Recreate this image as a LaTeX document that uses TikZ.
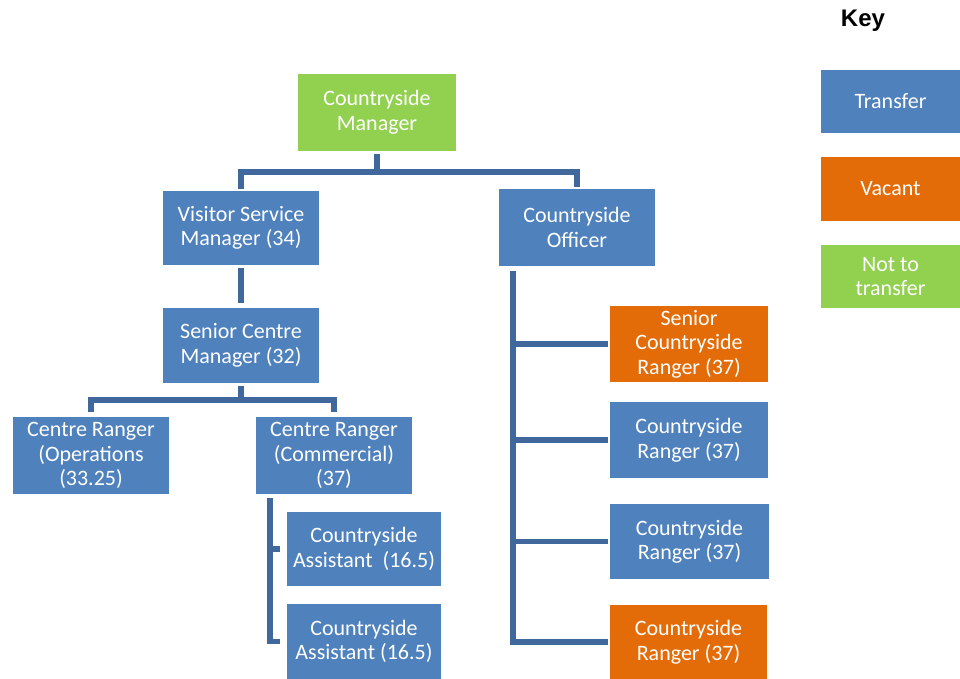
\documentclass[tikz,border=0pt]{standalone}
\usepackage{fontspec}
\setmainfont{Carlito}
\newfontfamily\keyfont{Liberation Sans}
\usetikzlibrary{calc}
\definecolor{cblue}{HTML}{4F81BD}
\definecolor{corange}{HTML}{E36C09}
\definecolor{cgreen}{HTML}{92D050}
\definecolor{cline}{RGB}{65,104,156}
\tikzset{
  box/.style={rectangle, inner sep=0pt, text=white, align=center,
    font=\fontsize{22}{24.5}\selectfont, minimum width=156pt, minimum height=76pt},
  tr/.style={box, fill=cblue},
  va/.style={box, fill=corange},
  nt/.style={box, fill=cgreen},
  conn/.style={draw=cline, line width=5.5pt},
}
\begin{document}
\begin{tikzpicture}[x=1pt,y=-1pt]
\useasboundingbox (0,0) rectangle (960,679);
% org nodes
\node[nt, minimum width=158pt, minimum height=77pt] (mgr) at (377,112.5) {Countryside\\Manager};
\node[tr, minimum height=74pt] (vsm) at (241,228) {Visitor Service\\Manager (34)};
\node[tr, minimum height=77pt] (co) at (577,227.5) {Countryside\\Officer};
\node[tr, minimum height=75pt] (scm) at (241,345.5) {Senior Centre\\Manager (32)};
\node[tr, minimum height=77pt] (cro) at (91,455.5) {Centre Ranger\\(Operations\\(33.25)};
\node[tr, minimum height=77pt] (crc) at (334,455.5) {Centre Ranger\\(Commercial)\\(37)};
\node[tr, minimum width=154pt, minimum height=74pt] (ca1) at (364,549) {Countryside\\Assistant~~(16.5)};
\node[tr, minimum width=154pt, minimum height=75pt] (ca2) at (364,641.5) {Countryside\\Assistant (16.5)};
\node[va, minimum width=158pt] (scr) at (689,344) {Senior\\Countryside\\Ranger (37)};
\node[tr, minimum width=158pt] (cr1) at (689,440) {Countryside\\Ranger (37)};
\node[tr, minimum width=159pt, minimum height=75pt] (cr2) at (689.5,541.5) {Countryside\\Ranger (37)};
\node[va, minimum width=157pt, minimum height=74pt] (cr3) at (688.5,642) {Countryside\\Ranger (37)};
% key
\node[font=\keyfont\bfseries\fontsize{24}{28}\selectfont] (key) at (863,21) {Key};
\node[tr, minimum width=139pt, minimum height=63pt] (k1) at (890.5,101.5) {Transfer};
\node[va, minimum width=139pt, minimum height=64pt] (k2) at (890.5,189) {Vacant};
\node[nt, minimum width=139pt, minimum height=63pt] (k3) at (890.5,276.5) {Not to\\transfer};
% connectors
\coordinate (j1) at (377,172);
\draw[conn, shorten <=3pt] (mgr.south) -- (j1);
\draw[conn, shorten <=2pt, shorten >=2pt] (vsm.north) |- (j1) -| (co.north);
\draw[conn, shorten <=3pt, shorten >=5pt] (vsm.south) -- (scm.north);
\coordinate (j2) at (241,400);
\draw[conn, shorten <=3pt] (scm.south) -- (j2);
\draw[conn, shorten <=5pt, shorten >=5pt] (cro.north) |- (j2) -| (crc.north);
% commercial branch
\coordinate (c0) at ($(crc.south west)+(14,4)$);
\coordinate (c1) at ($(ca1.west)+(-7,0)$);
\coordinate (c2) at ($(ca2.west)+(-7,0)$);
\draw[conn] (c0) |- (c2);
\draw[conn] (c0 |- c1) -- (c1);
% officer branch
\coordinate (o0) at ($(co.south west)+(14,5)$);
\draw[conn, shorten >=2pt] (o0) |- (cr3.west);
\draw[conn, shorten >=2pt] (o0 |- scr.west) -- (scr.west);
\draw[conn, shorten >=2pt] (o0 |- cr1.west) -- (cr1.west);
\draw[conn, shorten >=2pt] (o0 |- cr2.west) -- (cr2.west);
\end{tikzpicture}
\end{document}
